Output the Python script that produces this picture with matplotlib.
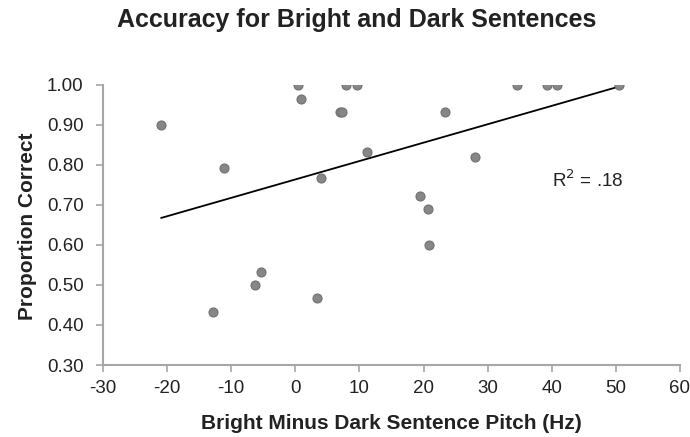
import matplotlib
matplotlib.use("Agg")
import matplotlib.pyplot as plt
import numpy as np

plt.rcParams['font.family'] = ['Liberation Sans', 'DejaVu Sans']

pitch_diff = [-20.9, -11.2, 0.36, 0.93, 6.96, 7.27, 7.84, 9.66, 11.2, 4.05,
              34.5, 39.3, 40.8, 50.5, 23.4, 28.0, 19.5, 20.7, 20.9,
              -5.35, -6.3, 3.32, -12.9]
accuracy = [0.90, 0.793, 1.00, 0.965, 0.933, 0.933, 1.00, 1.00, 0.833, 0.767,
            1.00, 1.00, 1.00, 1.00, 0.932, 0.821, 0.723, 0.69, 0.60,
            0.533, 0.50, 0.467, 0.433]
x_ticks = [-30, -20, -10, 0, 10, 20, 30, 40, 50, 60]
y_ticks = [0.30, 0.40, 0.50, 0.60, 0.70, 0.80, 0.90, 1.00]

x = np.array(pitch_diff)
y = np.array(accuracy)

W, H = 690, 437
fig = plt.figure(figsize=(W/100, H/100), dpi=100)
ax = fig.add_axes([103/W, 1-365/H, (680-103)/W, (365-85)/H])

ax.scatter(x, y, s=42, color='#878787', edgecolors='#707070', linewidths=0.8, zorder=3)
m, b = np.polyfit(x, y, 1)
xs = np.array([x.min(), x.max()])
ax.plot(xs, m*xs + b, color='black', lw=1.3, zorder=2)

ax.set_xlim(-30, 60)
ax.set_ylim(0.30, 1.00)
ax.set_xticks(x_ticks)
ax.set_yticks(y_ticks)
ax.set_xticklabels([str(t) for t in x_ticks])
ax.set_yticklabels([f"{t:.2f}" for t in y_ticks])
for s in ['top', 'right']:
    ax.spines[s].set_visible(False)
for s in ['left', 'bottom']:
    ax.spines[s].set_color('#a6a6a6')
    ax.spines[s].set_linewidth(1.5)
ax.tick_params(axis='both', colors='#a6a6a6', labelcolor='#222222', labelsize=13.5,
               length=5, width=1.2, direction='out')
ax.tick_params(axis='y', pad=9)
ax.tick_params(axis='x', pad=6)
ax.spines['left'].set_clip_on(False)
ax.spines['bottom'].set_clip_on(False)

fig.text(391/W, 1-429/H, 'Bright Minus Dark Sentence Pitch (Hz)', ha='center', va='baseline',
         fontsize=15, fontweight='bold', color='#222222')
fig.text(33/W, 1-226/H, 'Proportion Correct', ha='center', va='baseline', rotation=90,
         rotation_mode='anchor', fontsize=15, fontweight='bold', color='#222222')
fig.text(357/W, 1-27.3/H, 'Accuracy for Bright and Dark Sentences', ha='center', va='baseline',
         fontsize=18, fontweight='bold', color='#222222')
ax.text(40.05, 0.744, r'R$^2$ = .18', fontsize=13.5, color='#222222', va='baseline', ha='left')

fig.savefig('out.png', dpi=100)
